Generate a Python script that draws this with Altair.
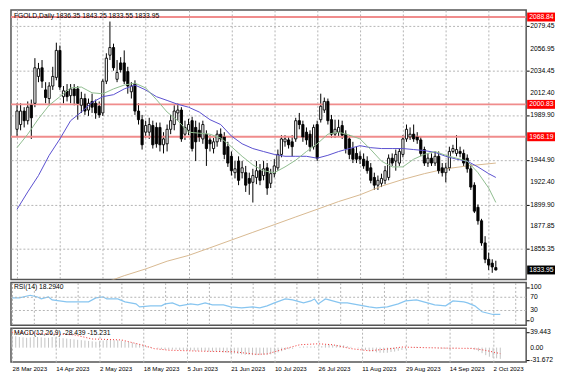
import altair as alt
import pandas as pd

W = 518
H_MAIN, H_RSI, H_MACD = 271, 43, 34
FONT = "Liberation Sans"
FS = 6.8
FSX = 6.2

title_text = "FGOLD,Daily  1836.35 1843.25 1833.55 1833.95"
rsi_title = "RSI(14) 18.2940"
macd_title = "MACD(12,26,9) -28.439 -15.231"

date_labels = ["28 Mar 2023", "14 Apr 2023", "2 May 2023", "18 May 2023", "5 Jun 2023",
               "21 Jun 2023", "10 Jul 2023", "26 Jul 2023", "11 Aug 2023", "29 Aug 2023",
               "14 Sep 2023", "2 Oct 2023"]

opens = [1975.7, 1980.5, 1994.1, 1984.4, 1999.9, 2001.9, 2029.0, 2037.7, 2015.4, 2006.7,
         2019.3, 2028.0, 2055.2, 2008.6, 2014.5, 2009.6, 2016.4, 2016.4, 1999.9, 2006.7,
         1995.1, 2003.8, 2001.9, 1998.9, 1992.2, 2024.2, 2050.4, 2058.1, 2026.1, 2042.6,
         2042.6, 2033.9, 2013.5, 2021.3, 1994.1, 1985.4, 1972.8, 1972.8, 1979.5, 1977.6,
         1977.6, 1960.1, 1961.1, 1975.7, 1980.5, 1992.2, 1995.1, 1970.8, 1974.7, 1984.4,
         1977.6, 1974.7, 1966.0, 1970.8, 1965.0, 1956.3, 1963.1, 1970.8, 1967.9, 1958.2,
         1948.5, 1932.0, 1943.7, 1932.0, 1932.0, 1926.2, 1922.3, 1927.2, 1934.0, 1929.1,
         1936.9, 1921.3, 1931.0, 1936.9, 1950.4, 1963.1, 1965.0, 1963.1, 1966.0, 1984.4,
         1980.5, 1972.8, 1970.8, 1958.2, 1980.5, 1985.4, 1995.1, 2003.8, 1985.4, 1970.8,
         1972.8, 1979.5, 1970.8, 1966.0, 1956.3, 1951.4, 1948.5, 1945.6, 1943.7, 1936.9,
         1927.2, 1919.4, 1921.3, 1924.3, 1927.2, 1946.6, 1943.7, 1941.7, 1950.4, 1966.0,
         1967.9, 1970.8, 1967.9, 1965.0, 1955.3, 1941.7, 1946.6, 1941.7, 1948.5, 1936.9,
         1932.0, 1936.9, 1953.4, 1951.4, 1953.4, 1951.4, 1946.6, 1935.9, 1919.4, 1897.1,
         1883.5, 1861.2, 1844.7, 1840.8, 1836.35]
highs = [2001.9, 2001.9, 1998.0, 2003.8, 2005.7, 2047.4, 2042.6, 2045.5, 2023.2, 2023.2,
         2038.7, 2063.0, 2060.1, 2019.3, 2021.3, 2021.3, 2021.3, 2019.3, 2013.5, 2011.6,
         2006.7, 2011.6, 2005.7, 2003.8, 2026.1, 2052.3, 2084.3, 2062.0, 2045.5, 2048.4,
         2055.2, 2038.7, 2023.2, 2025.1, 2001.9, 1990.2, 1984.4, 1987.3, 1984.4, 1982.5,
         1982.5, 1972.8, 1980.5, 1990.2, 1999.9, 2001.9, 1998.0, 1984.4, 1986.3, 1988.3,
         1984.4, 1982.5, 1984.4, 1974.7, 1969.8, 1966.9, 1974.7, 1976.6, 1972.8, 1963.1,
         1953.4, 1943.7, 1948.5, 1943.7, 1938.8, 1932.0, 1935.9, 1943.7, 1940.7, 1943.7,
         1941.7, 1935.9, 1945.6, 1955.3, 1969.8, 1969.8, 1968.9, 1969.8, 1987.3, 1992.2,
         1984.4, 1977.6, 1974.7, 1980.5, 1984.4, 2011.6, 2007.7, 2006.7, 1990.2, 1985.4,
         1985.4, 1984.4, 1974.7, 1969.8, 1963.1, 1958.2, 1953.4, 1951.4, 1948.5, 1941.7,
         1932.0, 1929.1, 1931.0, 1938.8, 1950.4, 1951.4, 1955.3, 1956.3, 1969.8, 1980.5,
         1977.6, 1980.5, 1972.8, 1968.9, 1958.2, 1951.4, 1951.4, 1953.4, 1953.4, 1941.7,
         1941.7, 1958.2, 1960.1, 1969.8, 1958.2, 1955.3, 1950.4, 1940.7, 1922.3, 1900.0,
         1885.5, 1868.0, 1851.5, 1844.7, 1843.25]
lows = [1967.9, 1974.7, 1977.6, 1980.5, 1966.0, 1998.0, 2023.2, 2017.4, 2001.9, 1999.9,
        2015.4, 2025.1, 2015.4, 2001.9, 2003.8, 2001.9, 1999.9, 1985.4, 1992.2, 1990.2,
        1989.2, 1992.2, 1986.3, 1987.3, 1989.2, 2021.3, 2045.5, 2034.8, 2023.2, 2032.9,
        2021.3, 2011.6, 2006.7, 1990.2, 1980.5, 1955.3, 1966.9, 1966.0, 1956.3, 1957.2,
        1953.4, 1951.4, 1953.4, 1970.8, 1974.7, 1984.4, 1963.1, 1965.0, 1969.8, 1953.4,
        1943.7, 1963.1, 1961.1, 1938.8, 1953.4, 1951.4, 1958.2, 1963.1, 1945.6, 1937.8,
        1929.1, 1926.2, 1919.4, 1926.2, 1912.6, 1909.7, 1901.9, 1920.4, 1919.4, 1924.3,
        1909.7, 1916.5, 1927.2, 1934.0, 1947.5, 1958.2, 1956.3, 1948.5, 1963.1, 1975.7,
        1963.1, 1960.1, 1953.4, 1955.3, 1943.7, 1982.5, 1992.2, 1980.5, 1966.9, 1966.9,
        1967.9, 1966.0, 1951.4, 1945.6, 1941.7, 1941.7, 1940.7, 1935.9, 1931.0, 1921.3,
        1914.6, 1914.6, 1917.5, 1920.4, 1924.3, 1938.8, 1934.0, 1938.8, 1947.5, 1963.1,
        1965.0, 1963.1, 1961.1, 1948.5, 1938.8, 1937.8, 1938.8, 1938.8, 1931.0, 1928.1,
        1922.3, 1934.0, 1951.4, 1948.5, 1947.5, 1938.8, 1932.0, 1914.6, 1891.3, 1879.6,
        1858.3, 1840.8, 1834.0, 1831.1, 1833.55]
closes = [1994.1, 1994.1, 1984.4, 1998.0, 1987.3, 2037.7, 2036.8, 2024.2, 2007.7, 2019.3,
          2029.0, 2055.2, 2018.3, 2014.5, 2008.6, 2016.4, 2009.6, 2001.9, 2006.7, 1994.1,
          2001.9, 1998.0, 1992.2, 1990.2, 2024.2, 2047.4, 2058.1, 2037.7, 2032.9, 2035.8,
          2024.2, 2019.3, 2019.3, 1994.1, 1985.4, 1960.1, 1979.5, 1980.5, 1960.1, 1961.1,
          1960.1, 1966.0, 1975.7, 1984.4, 1994.1, 1995.1, 1966.0, 1977.6, 1980.5, 1956.3,
          1963.1, 1967.9, 1980.5, 1956.3, 1961.1, 1963.1, 1970.8, 1966.0, 1950.4, 1941.7,
          1934.0, 1935.9, 1924.3, 1936.9, 1919.4, 1921.3, 1929.1, 1934.0, 1924.3, 1935.9,
          1916.5, 1931.0, 1938.8, 1950.4, 1966.0, 1966.0, 1960.1, 1958.2, 1984.4, 1980.5,
          1967.9, 1965.0, 1958.2, 1977.6, 1946.6, 1998.9, 2003.8, 1984.4, 1970.8, 1975.7,
          1977.6, 1969.8, 1956.3, 1950.4, 1945.6, 1945.6, 1945.6, 1938.8, 1934.0, 1924.3,
          1919.4, 1924.3, 1926.2, 1934.0, 1946.6, 1941.7, 1950.4, 1953.4, 1966.0, 1975.7,
          1970.8, 1966.0, 1965.0, 1951.4, 1941.7, 1946.6, 1941.7, 1948.5, 1934.0, 1932.0,
          1936.9, 1953.4, 1956.3, 1955.3, 1951.4, 1941.7, 1935.9, 1917.5, 1893.2, 1883.5,
          1861.2, 1844.7, 1838.9, 1837.0, 1833.95]

# moving averages (bar index, value)
ma_fast_idx = list(range(0, 133, 3)) + [134]
ma_fast = [1957.2, 1970.8, 1986.3, 2000.0, 2008.6, 2017.4, 2018.3, 2012.5, 2011.5, 2016.4,
           2020.3, 2022.2, 2017.4, 2005.7, 1993.1, 1984.4, 1972.8, 1971.8, 1970.8, 1966.9,
           1958.2, 1948.5, 1939.8, 1933.9, 1932.0, 1937.8, 1944.6, 1953.3, 1961.1, 1970.8,
           1972.8, 1969.9, 1966.0, 1955.3, 1943.6, 1937.8, 1937.8, 1945.6, 1950.4, 1953.3,
           1949.5, 1946.6, 1943.6, 1932.0, 1916.5, 1902.0]
ma_mid_idx = list(range(0, 133, 3)) + [134]
ma_mid = [1895.1, 1912.6, 1929.1, 1949.5, 1966.0, 1984.4, 1993.1, 2002.8, 2008.6, 2010.6,
          2016.4, 2020.3, 2015.4, 2008.6, 2004.8, 2000.9, 1998.0, 1993.1, 1985.4, 1980.5,
          1968.9, 1961.1, 1956.3, 1953.3, 1950.4, 1948.5, 1948.5, 1948.5, 1946.6, 1949.5,
          1953.3, 1956.3, 1959.2, 1957.2, 1956.3, 1956.3, 1956.3, 1955.3, 1954.3, 1952.4,
          1948.5, 1945.6, 1943.6, 1937.8, 1931.0, 1927.2]
ma_slow_idx = [26, 30, 36, 42, 48, 54, 60, 66, 72, 78, 84, 90, 96, 102, 108, 114, 120, 126, 134]
ma_slow = [1823.0, 1828.2, 1835.0, 1842.8, 1848.6, 1856.3, 1864.1, 1871.9, 1879.6, 1887.4,
           1895.1, 1902.9, 1909.7, 1918.4, 1925.2, 1931.0, 1935.9, 1938.8, 1941.7]

levels = [2088.84, 2000.83, 1968.19]
level_text = ["2088.84", "2000.83", "1968.19"]
price_ticks = [2079.45, 2056.95, 2034.45, 2012.40, 1989.90, 1967.40, 1944.90, 1922.40,
               1899.90, 1877.85, 1855.35]
price_tick_text = ["2079.45", "2056.95", "2034.45", "2012.40", "1989.90", "", "1944.90",
                   "1922.40", "1899.90", "1877.85", "1855.35"]
last_price = [1833.95]

rsi_idx = [0, 2, 5, 7, 8, 10, 11, 13, 15, 18, 21, 23, 25, 26, 29, 31, 34, 35, 38, 41, 42, 44,
           46, 49, 51, 53, 55, 58, 60, 63, 66, 68, 70, 72, 75, 77, 79, 80, 82, 83, 84, 86, 87,
           90, 92, 95, 98, 100, 103, 106, 108, 111, 114, 116, 119, 121, 124, 125, 127, 129,
           132, 134]
rsi_val = [68, 68, 76, 71, 65, 71, 62, 59, 56, 56, 56, 68, 71, 65, 65, 56, 50, 41, 44, 44, 50,
           53, 44, 50, 47, 53, 47, 47, 41, 38, 41, 38, 44, 53, 65, 62, 56, 53, 59, 65, 50, 65,
           62, 53, 53, 47, 41, 38, 41, 50, 59, 62, 53, 47, 44, 59, 56, 53, 44, 26, 18, 18.3]
rsi_levels = [30, 70]
rsi_ticks = [100, 70, 30, 0]
rsi_tick_text = ["100", "70", "30", "0"]

macd_main = [30, 29, 27, 26, 25, 26, 27, 27, 26, 25,
             25, 27, 26, 25, 24, 23, 22, 21, 20, 19,
             18, 17, 16, 15, 16, 18, 20, 20, 19, 19,
             18, 16, 15, 13, 11, 8, 6, 4, 2, 0,
             -2, -4, -5, -5, -5, -5, -6, -6, -6, -7,
             -8, -8, -8, -9, -10, -10, -10, -11, -12, -13,
             -14, -15, -16, -17, -18, -18, -19, -19, -19, -18,
             -18, -17, -15, -12, -9, -6, -4, -3, 0, 2,
             3, 3, 3, 3, 2, 4, 7, 8, 7, 7,
             7, 6, 4, 2, 0, -2, -4, -6, -8, -10,
             -12, -13, -13, -13, -11, -10, -8, -6, -3, 0,
             1, 2, 2, 1, 0, -1, -1, -2, -3, -3,
             -3, -2, -1, 0, 0, -1, -2, -5, -9, -14,
             -19, -23, -26, -27, -28.439]
sig_idx = [0, 5, 10, 17, 22, 30, 36, 39, 43, 52, 61, 67, 70, 75, 79, 84, 88, 93, 98, 104,
           107, 113, 118, 122, 126, 128, 130, 132, 134]
sig_val = [39.4, 37, 35, 32.6, 22, 19.6, 6, -2.5, -6.5, -9, -10.6, -17, -16, -2.5, 7.4, 9.8,
           7.4, -2.5, -8, -2.5, 1.6, 0, -1, -1.5, -2, -4, -7, -11, -15.231]
macd_ticks = [39.443, 0.0, -31.672]
macd_tick_text = ["39.443", "0.00", "-31.672"]

# ---------------------------------------------------------------- frames
idx = list(range(len(closes)))
candles = pd.DataFrame({"i": idx, "o": opens, "h": highs, "l": lows, "c": closes})
candles["dir"] = ["up" if c >= o else "down" for o, c in zip(opens, closes)]
fast_df = pd.DataFrame({"i": ma_fast_idx, "v": ma_fast})
mid_df = pd.DataFrame({"i": ma_mid_idx, "v": ma_mid})
slow_df = pd.DataFrame({"i": ma_slow_idx, "v": ma_slow})
lvl_df = pd.DataFrame({"p": levels, "t": level_text})
last_df = pd.DataFrame({"p": last_price, "t": ["%.2f" % v for v in last_price]})
ptick_df = pd.DataFrame({"p": price_ticks, "t": price_tick_text})
rsi_df = pd.DataFrame({"i": rsi_idx, "v": rsi_val})
rsi_lvl_df = pd.DataFrame({"v": rsi_levels})
rsi_tick_df = pd.DataFrame({"v": rsi_ticks, "t": rsi_tick_text})
macd_df = pd.DataFrame({"i": idx, "m": macd_main})
sig_df = pd.DataFrame({"i": sig_idx, "v": sig_val})
macd_tick_df = pd.DataFrame({"v": macd_ticks, "t": macd_tick_text})

xscale = alt.Scale(domain=[-0.3, 141.1], nice=False, zero=False)
grid_vals = list(range(0, 139, 6))
GRID = "#b4b4b4"
GDASH = [2, 2]

x_grid_axis = alt.Axis(values=grid_vals, grid=True, gridColor=GRID, gridDash=GDASH,
                       labels=False, ticks=False, domain=False, title=None)
lab_arr = "[" + ",".join("'" + d + "'" for d in date_labels) + "]"
x_date_axis = alt.Axis(values=grid_vals, grid=True, gridColor=GRID, gridDash=GDASH,
                       labels=True, ticks=False, domain=False, title=None,
                       labelAlign="left", labelPadding=3, labelFontSize=FSX,
                       labelOverlap=False,
                       labelExpr="datum.value % 12 == 0 ? " + lab_arr + "[datum.value / 12] : ''")


def yaxis(vals, grid):
    return alt.Axis(orient="right", values=vals, grid=grid, gridColor=GRID, gridDash=GDASH,
                    tickSize=3, tickColor="#000", domain=False, labels=False, title=None)


def tick_labels(df, field):
    return alt.Chart(df).mark_text(align="left", baseline="middle", font=FONT, fontSize=FS,
                                   color="#000").encode(
        x=alt.value(W + 4), y=alt.Y(field + ":Q"), text="t:N")


yscale_main = alt.Scale(domain=[1824.34, 2095.94], nice=False, zero=False)
X = alt.X("i:Q", scale=xscale, axis=x_grid_axis)

wicks = alt.Chart(candles).mark_rule(color="#000", strokeWidth=1).encode(
    x=X, y=alt.Y("l:Q", scale=yscale_main, axis=yaxis(price_ticks, True)), y2="h:Q")
bodies = alt.Chart(candles).mark_bar(size=2.2, stroke="#000", strokeWidth=0.9).encode(
    x="i:Q", y="o:Q", y2="c:Q",
    fill=alt.Fill("dir:N", scale=alt.Scale(domain=["up", "down"], range=["#ffffff", "#000000"]),
                  legend=None))
lvl_rules = alt.Chart(lvl_df).mark_rule(color="#f08c8c", strokeWidth=2).encode(y="p:Q")
fast_line = alt.Chart(fast_df).mark_line(color="#8fbc8f", strokeWidth=1).encode(x="i:Q", y="v:Q")
mid_line = alt.Chart(mid_df).mark_line(color="#5a50d0", strokeWidth=1).encode(x="i:Q", y="v:Q")
slow_line = alt.Chart(slow_df).mark_line(color="#d8b890", strokeWidth=1, clip=True).encode(
    x="i:Q", y="v:Q")
BOX = "M-1,-0.32L1,-0.32L1,0.32L-1,0.32Z"
lvl_box = alt.Chart(lvl_df).mark_point(shape=BOX, filled=True, size=28 * 28, opacity=1,
                                       color="#ff0000").encode(x=alt.value(W + 15), y="p:Q")
lvl_txt = alt.Chart(lvl_df).mark_text(align="left", baseline="middle", color="#ffffff",
                                      font=FONT, fontSize=FS).encode(
    x=alt.value(W + 3), y="p:Q", text="t:N")
last_box = alt.Chart(last_df).mark_point(shape=BOX, filled=True, size=28 * 28, opacity=1,
                                         color="#000000").encode(x=alt.value(W + 15), y="p:Q")
last_txt = alt.Chart(last_df).mark_text(align="left", baseline="middle", color="#ffffff",
                                        font=FONT, fontSize=FS).encode(
    x=alt.value(W + 3), y="p:Q", text="t:N")
title_mark = alt.Chart(pd.DataFrame({"t": [title_text]})).mark_text(
    align="left", baseline="middle", font=FONT, fontSize=FS, color="#000").encode(
    x=alt.value(3), y=alt.value(6), text="t:N")

main = alt.layer(wicks, slow_line, lvl_rules, bodies, mid_line, fast_line,
                 tick_labels(ptick_df, "p"),
                 lvl_box, lvl_txt, last_box, last_txt, title_mark).properties(
    width=W, height=H_MAIN)

# RSI panel
yscale_rsi = alt.Scale(domain=[-14.7, 114.7], nice=False, zero=False)
rsi_line = alt.Chart(rsi_df).mark_line(color="#87c5f0", strokeWidth=1.2).encode(
    x=alt.X("i:Q", scale=xscale, axis=x_grid_axis),
    y=alt.Y("v:Q", scale=yscale_rsi, axis=yaxis(rsi_ticks, False)))
rsi_levels_rule = alt.Chart(rsi_lvl_df).mark_rule(color=GRID, strokeDash=GDASH).encode(y="v:Q")
rsi_title_mark = alt.Chart(pd.DataFrame({"t": [rsi_title]})).mark_text(
    align="left", baseline="middle", font=FONT, fontSize=FS, color="#000").encode(
    x=alt.value(3), y=alt.value(5), text="t:N")
rsi = alt.layer(rsi_line, rsi_levels_rule, tick_labels(rsi_tick_df, "v"),
                rsi_title_mark).properties(width=W, height=H_RSI)

# MACD panel
yscale_macd = alt.Scale(domain=[-36.6, 49.25], nice=False, zero=False)
hist = alt.Chart(macd_df).mark_rule(color="#c4c4c4", strokeWidth=1).encode(
    x=alt.X("i:Q", scale=xscale, axis=x_date_axis),
    y=alt.Y("m:Q", scale=yscale_macd, axis=yaxis(macd_ticks, False)), y2=alt.datum(0))
sig_line = alt.Chart(sig_df).mark_line(color="#f03030", strokeWidth=1, strokeDash=[1, 2]).encode(
    x="i:Q", y="v:Q")
macd_title_mark = alt.Chart(pd.DataFrame({"t": [macd_title]})).mark_text(
    align="left", baseline="middle", font=FONT, fontSize=FS, color="#000").encode(
    x=alt.value(3), y=alt.value(5), text="t:N")
macd = alt.layer(hist, sig_line, tick_labels(macd_tick_df, "v"),
                 macd_title_mark).properties(width=W, height=H_MACD)

chart = alt.vconcat(main, rsi, macd, spacing=1).properties(
    padding=0, background="#ffffff"
).configure_view(
    stroke="#555555", strokeWidth=1.5
).configure_axis(
    labelFont=FONT, labelColor="#000"
)

chart.save("out.html", embed_options={"renderer": "svg", "actions": False})
